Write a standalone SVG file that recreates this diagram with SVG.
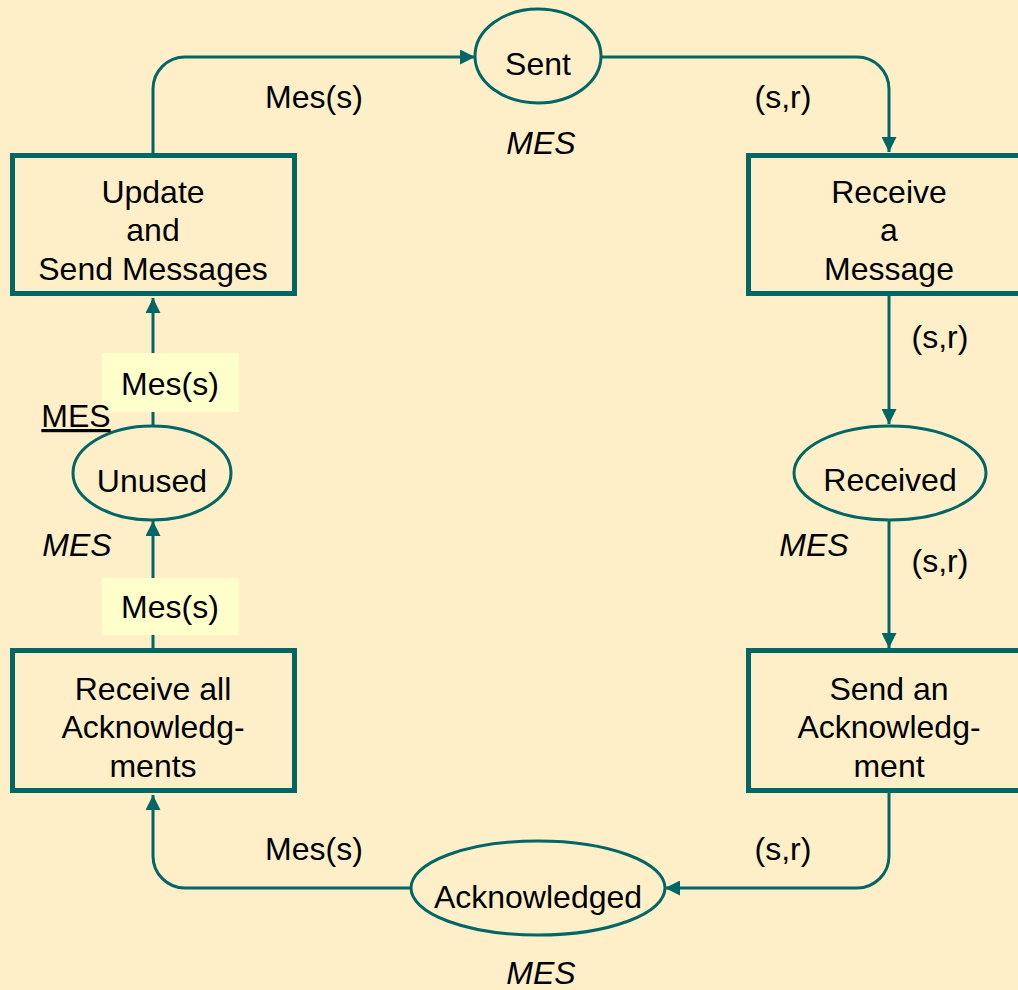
<svg xmlns="http://www.w3.org/2000/svg" width="1018" height="990" viewBox="0 0 1018 990">
<defs>
<marker id="ah" viewBox="0 0 10 10" refX="10" refY="5" markerWidth="15" markerHeight="15" markerUnits="userSpaceOnUse" orient="auto">
<path d="M0,0 L10,5 L0,10 z" fill="#006666"/>
</marker>
</defs>
<style>
text{font-family:"Liberation Sans",Arial,sans-serif;font-size:32px;fill:#000;text-anchor:middle}
.it{font-style:italic}
.tr{fill:none;stroke:#006666;stroke-width:5}
.pl{fill:none;stroke:#006666;stroke-width:3}
.arc{fill:none;stroke:#006666;stroke-width:3;marker-end:url(#ah)}
.lbl{fill:#FFFFCC}
</style>
<rect width="1018" height="990" fill="#FEEFC8"/>
<g id="connectors">
<path class="arc" d="M153,153 V89 A32,32 0 0 1 185,57 H475"/>
<path class="arc" d="M601,57 H857 A32,32 0 0 1 889,89 V152"/>
<path class="arc" d="M889,296 V424"/>
<path class="arc" d="M889,520 V648"/>
<path class="arc" d="M889,793 V856 A32,32 0 0 1 857,888 H665"/>
<path class="arc" d="M411,888 H185 A32,32 0 0 1 153,856 V795"/>
<path class="arc" d="M153,648 V521"/>
<path class="arc" d="M153,426 V298"/>
<text x="314" y="108">Mes(s)</text>
<text x="783" y="108">(s,r)</text>
<text x="940" y="348">(s,r)</text>
<text x="940" y="572">(s,r)</text>
<text x="783" y="860">(s,r)</text>
<text x="314" y="860">Mes(s)</text>
<rect class="lbl" x="102" y="353" width="137" height="59"/>
<text x="170" y="395">Mes(s)</text>
<rect class="lbl" x="102" y="578" width="137" height="57"/>
<text x="170" y="618">Mes(s)</text>
</g>
<g id="sent">
<ellipse class="pl" cx="538" cy="56" rx="63" ry="47"/>
<text x="538" y="75">Sent</text>
<text class="it" x="541" y="154">MES</text>
</g>
<g id="update">
<rect class="tr" x="12.5" y="155.5" width="282" height="138"/>
<text x="153" y="203">Update</text>
<text x="153" y="241">and</text>
<text x="153" y="280">Send Messages</text>
</g>
<g id="receive">
<rect class="tr" x="748.5" y="155.5" width="282" height="138"/>
<text x="889" y="203">Receive</text>
<text x="889" y="241">a</text>
<text x="889" y="280">Message</text>
</g>
<g id="received">
<ellipse class="pl" cx="890" cy="473" rx="96" ry="47"/>
<text x="890" y="491">Received</text>
<text class="it" x="814" y="556">MES</text>
</g>
<g id="sendack">
<rect class="tr" x="748.5" y="650.5" width="282" height="140"/>
<text x="889" y="700">Send an</text>
<text x="889" y="738">Acknowledg-</text>
<text x="889" y="777">ment</text>
</g>
<g id="acknowledged">
<ellipse class="pl" cx="538" cy="888" rx="127" ry="47"/>
<text x="538" y="908">Acknowledged</text>
<text class="it" x="541" y="984">MES</text>
</g>
<g id="receiveall">
<rect class="tr" x="12.5" y="650.5" width="282" height="140"/>
<text x="153" y="700">Receive all</text>
<text x="153" y="738">Acknowledg-</text>
<text x="153" y="777">ments</text>
</g>
<g id="unused">
<ellipse class="pl" cx="152" cy="473" rx="79" ry="47"/>
<text x="152" y="492">Unused</text>
<text x="76" y="427" text-decoration="underline">MES</text>
<text class="it" x="77" y="556">MES</text>
</g>
</svg>
